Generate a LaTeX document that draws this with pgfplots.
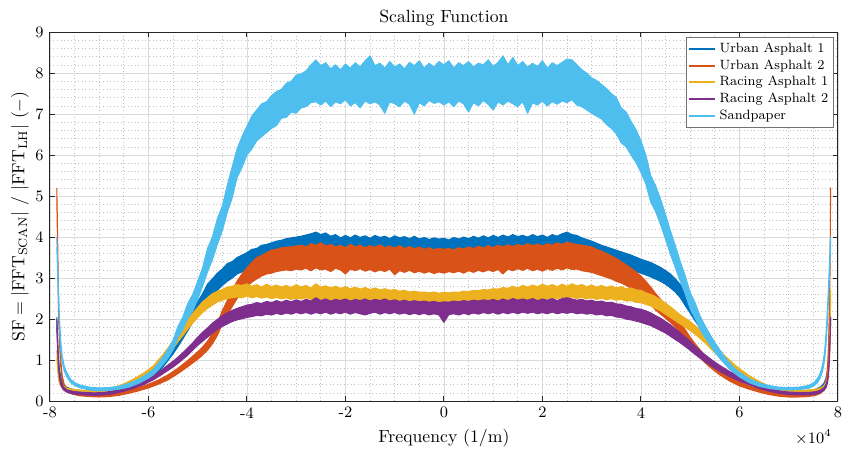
\documentclass[border=0pt]{standalone}
\usepackage{pgfplots}
\pgfplotsset{compat=1.18}
\usepackage{pgfplotstable}
\definecolor{cB}{RGB}{0,114,189}
\definecolor{cO}{RGB}{217,83,25}
\definecolor{cY}{RGB}{237,177,32}
\definecolor{cP}{RGB}{126,47,142}
\definecolor{cS}{RGB}{77,190,238}

% Sandpaper
\pgfplotstableread{
x lo up
-7.86 3.75 4.00
-7.845 3.20 3.45
-7.83 2.60 2.85
-7.815 2.10 2.35
-7.80 1.65 1.90
-7.78 1.25 1.45
-7.75 0.95 1.10
-7.71 0.74 0.86
-7.66 0.60 0.70
-7.58 0.45 0.53
-7.48 0.37 0.44
-7.38 0.32 0.39
-7.20 0.27 0.34
-7.00 0.25 0.32
-6.80 0.26 0.33
-6.60 0.29 0.36
-6.40 0.34 0.43
-6.20 0.43 0.53
-6.00 0.56 0.68
-5.90 0.64 0.78
-5.80 0.76 0.92
-5.70 0.90 1.08
-5.60 1.05 1.26
-5.50 1.25 1.48
-5.40 1.55 1.82
-5.30 1.75 2.05
-5.20 2.02 2.38
-5.10 2.20 2.60
-5.00 2.48 2.92
-4.90 2.80 3.25
-4.80 3.15 3.72
-4.70 3.45 4.00
-4.60 3.82 4.45
-4.50 4.15 4.75
-4.40 4.60 5.25
-4.30 4.95 5.70
-4.20 5.45 6.15
-4.10 5.70 6.45
-4.00 6.00 6.70
-3.90 6.15 6.95
-3.80 6.35 7.10
-3.70 6.45 7.25
-3.60 6.55 7.30
-3.50 6.65 7.45
-3.40 6.72 7.55
-3.30 6.90 7.60
-3.20 6.92 7.75
-3.10 7.05 7.80
-3.00 7.02 7.95
-2.90 7.15 7.98
-2.80 7.18 8.05
-2.70 7.28 8.20
-2.60 7.30 8.32
-2.50 7.22 8.18
-2.40 7.32 8.25
-2.30 7.18 8.10
-2.20 7.30 8.20
-2.10 7.25 8.08
-2.00 7.35 8.22
-1.90 7.20 8.12
-1.80 7.28 8.25
-1.70 7.15 8.15
-1.60 7.32 8.30
-1.50 7.25 8.42
-1.40 7.30 8.18
-1.30 7.22 8.24
-1.20 7.02 8.12
-1.10 7.30 8.28
-1.00 7.25 8.15
-0.90 7.18 8.22
-0.80 7.32 8.10
-0.70 7.24 8.26
-0.60 7.00 8.18
-0.50 7.28 8.30
-0.40 7.20 8.12
-0.30 7.33 8.24
-0.20 7.26 8.15
-0.10 7.30 8.28
0.00 7.22 8.20
0.10 7.30 8.30
0.20 7.18 8.12
0.30 7.32 8.25
0.40 7.25 8.18
0.50 7.05 8.28
0.60 7.28 8.15
0.70 7.20 8.24
0.80 7.33 8.20
0.90 7.24 8.32
1.00 7.10 8.16
1.10 7.30 8.26
1.20 7.22 8.42
1.30 7.32 8.20
1.40 7.25 8.38
1.50 7.18 8.18
1.60 7.30 8.28
1.70 7.02 8.14
1.80 7.28 8.24
1.90 7.22 8.16
2.00 7.32 8.30
2.10 7.20 8.12
2.20 7.30 8.25
2.30 7.24 8.18
2.40 7.32 8.26
2.50 7.28 8.34
2.60 7.35 8.32
2.70 7.22 8.20
2.80 7.18 8.08
2.90 7.10 8.00
3.00 7.02 7.88
3.10 6.95 7.82
3.20 6.88 7.72
3.30 6.75 7.62
3.40 6.65 7.50
3.50 6.52 7.40
3.60 6.30 7.15
3.70 6.20 7.05
3.80 6.00 6.82
3.90 5.82 6.62
4.00 5.58 6.35
4.10 5.30 6.00
4.20 4.85 5.50
4.30 4.62 5.25
4.40 4.30 4.92
4.50 3.95 4.55
4.60 3.58 4.15
4.70 3.25 3.78
4.80 2.92 3.40
4.90 2.62 3.05
5.00 2.25 2.65
5.10 2.02 2.40
5.20 1.75 2.08
5.30 1.55 1.84
5.40 1.38 1.62
5.50 1.20 1.42
5.60 1.05 1.24
5.70 0.92 1.08
5.80 0.79 0.93
5.90 0.68 0.80
6.00 0.59 0.70
6.20 0.45 0.55
6.40 0.36 0.44
6.60 0.31 0.38
6.80 0.28 0.34
7.00 0.27 0.33
7.20 0.28 0.34
7.40 0.31 0.38
7.50 0.36 0.44
7.58 0.44 0.54
7.64 0.56 0.68
7.69 0.74 0.88
7.73 1.00 1.20
7.76 1.40 1.65
7.79 2.00 2.30
7.815 2.65 2.95
7.835 3.30 3.55
7.85 3.75 4.00
}\tabS

% Urban Asphalt 1
\pgfplotstableread{
x lo up
-7.86 1.85 2.05
-7.845 1.40 1.60
-7.83 1.00 1.15
-7.81 0.70 0.82
-7.78 0.48 0.58
-7.74 0.36 0.43
-7.68 0.29 0.35
-7.58 0.24 0.30
-7.45 0.21 0.27
-7.30 0.19 0.25
-7.10 0.18 0.24
-6.90 0.19 0.25
-6.70 0.22 0.28
-6.50 0.27 0.34
-6.30 0.34 0.42
-6.10 0.44 0.54
-5.90 0.60 0.72
-5.70 0.84 0.98
-5.50 1.15 1.33
-5.40 1.33 1.55
-5.30 1.52 1.76
-5.20 1.72 2.00
-5.10 1.92 2.22
-5.00 2.08 2.42
-4.90 2.25 2.62
-4.80 2.45 2.85
-4.70 2.58 2.98
-4.60 2.70 3.12
-4.50 2.82 3.22
-4.40 2.92 3.35
-4.30 3.00 3.40
-4.20 3.10 3.50
-4.10 3.15 3.56
-4.00 3.22 3.62
-3.90 3.28 3.70
-3.80 3.30 3.72
-3.70 3.36 3.80
-3.60 3.40 3.82
-3.50 3.45 3.86
-3.40 3.48 3.90
-3.30 3.52 3.92
-3.20 3.55 3.96
-3.10 3.58 3.98
-3.00 3.60 4.00
-2.90 3.62 4.02
-2.80 3.66 4.05
-2.70 3.64 4.08
-2.60 3.70 4.12
-2.50 3.66 4.06
-2.40 3.68 4.10
-2.30 3.64 4.02
-2.20 3.70 4.06
-2.10 3.66 3.98
-2.00 3.68 4.04
-1.90 3.62 3.98
-1.80 3.68 4.05
-1.70 3.64 3.99
-1.60 3.69 4.03
-1.50 3.65 3.97
-1.40 3.67 4.04
-1.30 3.62 3.99
-1.20 3.66 4.02
-1.10 3.64 3.96
-1.00 3.68 4.03
-0.90 3.63 3.98
-0.80 3.66 4.01
-0.70 3.62 3.96
-0.60 3.65 4.02
-0.50 3.60 3.95
-0.40 3.64 3.99
-0.30 3.61 3.94
-0.20 3.63 3.98
-0.10 3.60 3.95
0.00 3.62 3.97
0.10 3.60 3.93
0.20 3.63 3.99
0.30 3.61 3.95
0.40 3.64 4.00
0.50 3.62 3.96
0.60 3.65 4.02
0.70 3.63 3.97
0.80 3.66 4.03
0.90 3.64 3.98
1.00 3.67 4.04
1.10 3.64 3.99
1.20 3.68 4.05
1.30 3.65 4.00
1.40 3.69 4.06
1.50 3.66 4.01
1.60 3.70 4.04
1.70 3.66 4.00
1.80 3.69 4.06
1.90 3.65 4.01
2.00 3.70 4.05
2.10 3.66 3.99
2.20 3.69 4.06
2.30 3.65 4.02
2.40 3.70 4.08
2.50 3.68 4.12
2.60 3.66 4.06
2.70 3.62 4.04
2.80 3.58 3.98
2.90 3.54 3.94
3.00 3.50 3.90
3.20 3.42 3.80
3.40 3.35 3.72
3.60 3.28 3.64
3.80 3.20 3.56
4.00 3.12 3.46
4.20 3.03 3.38
4.40 2.92 3.26
4.50 2.85 3.18
4.60 2.76 3.10
4.70 2.66 2.98
4.80 2.52 2.84
4.90 2.33 2.65
5.00 2.15 2.45
5.10 1.96 2.24
5.20 1.78 2.04
5.30 1.58 1.82
5.40 1.40 1.62
5.50 1.22 1.42
5.60 1.06 1.24
5.70 0.92 1.08
5.80 0.79 0.93
5.90 0.68 0.80
6.00 0.58 0.69
6.20 0.43 0.52
6.40 0.33 0.40
6.60 0.26 0.32
6.80 0.22 0.28
7.00 0.20 0.26
7.20 0.19 0.25
7.40 0.20 0.26
7.55 0.23 0.29
7.65 0.28 0.35
7.72 0.36 0.44
7.77 0.50 0.60
7.80 0.70 0.82
7.82 1.00 1.15
7.835 1.40 1.60
7.85 1.85 2.05
}\tabB

% Urban Asphalt 2
\pgfplotstableread{
x lo up
-7.86 4.95 5.20
-7.85 4.20 4.50
-7.84 3.40 3.70
-7.83 2.60 2.90
-7.82 1.90 2.15
-7.80 1.30 1.50
-7.78 0.85 1.00
-7.75 0.52 0.62
-7.71 0.34 0.41
-7.65 0.24 0.30
-7.55 0.17 0.23
-7.40 0.13 0.19
-7.20 0.11 0.17
-7.00 0.10 0.16
-6.80 0.11 0.17
-6.60 0.14 0.20
-6.40 0.19 0.27
-6.20 0.25 0.33
-6.00 0.32 0.41
-5.80 0.41 0.51
-5.60 0.52 0.64
-5.40 0.67 0.80
-5.20 0.84 0.99
-5.00 1.02 1.20
-4.90 1.12 1.32
-4.80 1.24 1.46
-4.70 1.40 1.65
-4.60 1.60 1.90
-4.50 1.88 2.20
-4.40 2.10 2.45
-4.30 2.30 2.70
-4.20 2.50 2.92
-4.10 2.65 3.10
-4.00 2.80 3.25
-3.90 2.90 3.38
-3.80 2.98 3.50
-3.70 3.05 3.55
-3.60 3.10 3.62
-3.50 3.12 3.68
-3.40 3.16 3.70
-3.30 3.18 3.74
-3.20 3.20 3.75
-3.10 3.18 3.76
-3.00 3.22 3.78
-2.90 3.20 3.80
-2.80 3.24 3.76
-2.70 3.18 3.84
-2.60 3.25 3.80
-2.50 3.20 3.86
-2.40 3.22 3.78
-2.30 3.16 3.82
-2.20 3.24 3.76
-2.10 3.20 3.80
-2.00 3.10 3.74
-1.90 3.22 3.82
-1.80 3.18 3.76
-1.70 3.23 3.80
-1.60 3.17 3.74
-1.50 3.21 3.79
-1.40 3.15 3.75
-1.30 3.20 3.81
-1.20 3.16 3.74
-1.10 3.22 3.78
-1.00 3.08 3.73
-0.90 3.18 3.79
-0.80 3.14 3.72
-0.70 3.19 3.77
-0.60 3.13 3.71
-0.50 3.17 3.76
-0.40 3.12 3.70
-0.30 3.16 3.74
-0.20 3.11 3.69
-0.10 3.15 3.73
0.00 3.12 3.70
0.10 3.16 3.72
0.20 3.13 3.69
0.30 3.17 3.74
0.40 3.12 3.71
0.50 3.18 3.76
0.60 3.14 3.72
0.70 3.19 3.78
0.80 3.15 3.73
0.90 3.20 3.79
1.00 3.16 3.74
1.10 3.21 3.80
1.20 3.10 3.76
1.30 3.22 3.81
1.40 3.18 3.77
1.50 3.23 3.82
1.60 3.19 3.78
1.70 3.24 3.84
1.80 3.18 3.79
1.90 3.22 3.83
2.00 3.17 3.78
2.10 3.23 3.84
2.20 3.19 3.80
2.30 3.24 3.86
2.40 3.20 3.82
2.50 3.25 3.88
2.60 3.21 3.84
2.70 3.22 3.82
2.80 3.18 3.80
2.90 3.16 3.78
3.00 3.14 3.76
3.10 3.10 3.70
3.20 3.06 3.66
3.30 3.02 3.60
3.40 2.98 3.54
3.50 2.92 3.48
3.60 2.88 3.40
3.70 2.82 3.32
3.80 2.75 3.24
3.90 2.66 3.15
4.00 2.58 3.05
4.10 2.46 2.92
4.20 2.35 2.78
4.30 2.22 2.62
4.40 2.12 2.48
4.50 2.02 2.34
4.60 1.92 2.22
4.70 1.80 2.08
4.80 1.65 1.92
4.90 1.48 1.74
5.00 1.32 1.56
5.10 1.18 1.40
5.20 1.05 1.25
5.30 0.94 1.12
5.40 0.83 0.99
5.60 0.64 0.77
5.80 0.49 0.60
6.00 0.37 0.47
6.20 0.29 0.37
6.40 0.22 0.29
6.60 0.16 0.22
6.80 0.12 0.18
7.00 0.10 0.16
7.20 0.10 0.16
7.40 0.11 0.17
7.55 0.14 0.20
7.65 0.19 0.26
7.72 0.28 0.36
7.76 0.42 0.52
7.79 0.70 0.84
7.81 1.20 1.40
7.825 1.90 2.15
7.835 2.70 3.00
7.845 3.60 3.90
7.85 4.95 5.20
}\tabO

% Racing Asphalt 1
\pgfplotstableread{
x lo up
-7.86 1.05 1.25
-7.84 0.72 0.86
-7.82 0.50 0.60
-7.79 0.38 0.46
-7.74 0.30 0.37
-7.65 0.25 0.31
-7.50 0.22 0.28
-7.30 0.20 0.26
-7.10 0.20 0.26
-6.90 0.22 0.28
-6.70 0.27 0.33
-6.50 0.34 0.42
-6.30 0.45 0.54
-6.10 0.58 0.68
-5.90 0.74 0.86
-5.70 0.98 1.14
-5.50 1.28 1.46
-5.40 1.45 1.64
-5.30 1.60 1.80
-5.20 1.76 1.98
-5.10 1.90 2.14
-5.00 2.04 2.28
-4.90 2.16 2.42
-4.80 2.26 2.52
-4.70 2.34 2.62
-4.60 2.42 2.68
-4.50 2.46 2.72
-4.40 2.50 2.78
-4.30 2.52 2.80
-4.20 2.54 2.84
-4.10 2.52 2.82
-4.00 2.56 2.86
-3.90 2.52 2.80
-3.80 2.55 2.84
-3.70 2.51 2.78
-3.60 2.54 2.85
-3.50 2.50 2.79
-3.40 2.53 2.83
-3.30 2.49 2.78
-3.20 2.52 2.82
-3.10 2.48 2.77
-3.00 2.51 2.84
-2.90 2.49 2.78
-2.80 2.52 2.82
-2.70 2.48 2.76
-2.60 2.51 2.86
-2.50 2.47 2.78
-2.40 2.50 2.81
-2.30 2.46 2.76
-2.20 2.49 2.80
-2.10 2.45 2.75
-2.00 2.48 2.79
-1.90 2.44 2.74
-1.80 2.47 2.78
-1.70 2.43 2.73
-1.60 2.46 2.77
-1.50 2.42 2.72
-1.40 2.45 2.76
-1.30 2.41 2.71
-1.20 2.43 2.74
-1.10 2.40 2.70
-1.00 2.42 2.72
-0.90 2.38 2.68
-0.80 2.40 2.70
-0.70 2.37 2.66
-0.60 2.39 2.68
-0.50 2.36 2.65
-0.40 2.38 2.66
-0.30 2.35 2.64
-0.20 2.37 2.66
-0.10 2.35 2.63
0.00 2.36 2.65
0.10 2.35 2.64
0.20 2.37 2.66
0.30 2.36 2.65
0.40 2.38 2.68
0.50 2.37 2.67
0.60 2.40 2.70
0.70 2.39 2.69
0.80 2.42 2.72
0.90 2.41 2.71
1.00 2.44 2.74
1.10 2.43 2.73
1.20 2.46 2.77
1.30 2.45 2.75
1.40 2.48 2.80
1.50 2.46 2.76
1.60 2.49 2.82
1.70 2.47 2.78
1.80 2.50 2.83
1.90 2.48 2.79
2.00 2.51 2.85
2.10 2.49 2.80
2.20 2.52 2.84
2.30 2.50 2.79
2.40 2.53 2.85
2.50 2.51 2.80
2.60 2.54 2.86
2.70 2.50 2.81
2.80 2.53 2.84
2.90 2.49 2.79
3.00 2.52 2.83
3.10 2.48 2.78
3.20 2.51 2.82
3.30 2.47 2.77
3.40 2.50 2.81
3.50 2.46 2.76
3.60 2.48 2.79
3.70 2.44 2.74
3.80 2.45 2.76
3.90 2.41 2.71
4.00 2.40 2.70
4.10 2.36 2.64
4.20 2.32 2.60
4.30 2.26 2.54
4.40 2.20 2.47
4.50 2.12 2.39
4.60 2.04 2.30
4.70 1.96 2.20
4.80 1.88 2.10
4.90 1.80 2.02
5.00 1.72 1.94
5.10 1.63 1.84
5.20 1.53 1.73
5.30 1.42 1.61
5.40 1.30 1.48
5.50 1.18 1.35
5.60 1.06 1.22
5.70 0.96 1.11
5.80 0.86 1.00
5.90 0.77 0.89
6.00 0.68 0.79
6.20 0.53 0.62
6.40 0.40 0.48
6.60 0.30 0.37
6.80 0.24 0.30
7.00 0.21 0.27
7.20 0.20 0.26
7.40 0.21 0.27
7.55 0.23 0.29
7.65 0.26 0.32
7.72 0.31 0.38
7.77 0.40 0.48
7.80 0.55 0.66
7.82 0.80 0.95
7.835 1.20 1.40
7.845 1.80 2.05
7.85 2.45 2.70
}\tabY

% Racing Asphalt 2
\pgfplotstableread{
x lo up
-7.86 1.80 2.00
-7.845 1.30 1.48
-7.83 0.90 1.04
-7.81 0.60 0.70
-7.78 0.40 0.48
-7.73 0.28 0.35
-7.65 0.21 0.27
-7.50 0.17 0.23
-7.30 0.15 0.21
-7.10 0.14 0.20
-6.90 0.15 0.21
-6.70 0.18 0.25
-6.50 0.24 0.31
-6.30 0.31 0.39
-6.10 0.40 0.49
-5.90 0.52 0.62
-5.70 0.67 0.79
-5.50 0.83 0.97
-5.40 0.92 1.07
-5.30 1.02 1.18
-5.20 1.12 1.30
-5.10 1.24 1.42
-5.00 1.36 1.56
-4.90 1.46 1.68
-4.80 1.56 1.78
-4.70 1.66 1.90
-4.60 1.75 1.99
-4.50 1.82 2.08
-4.40 1.88 2.15
-4.30 1.94 2.21
-4.20 1.98 2.26
-4.10 2.01 2.30
-4.00 2.04 2.34
-3.90 2.06 2.36
-3.80 2.09 2.40
-3.70 2.08 2.38
-3.60 2.12 2.43
-3.50 2.10 2.40
-3.40 2.14 2.45
-3.30 2.11 2.41
-3.20 2.15 2.46
-3.10 2.12 2.42
-3.00 2.16 2.47
-2.90 2.13 2.43
-2.80 2.16 2.48
-2.70 2.12 2.44
-2.60 2.16 2.52
-2.50 2.13 2.45
-2.40 2.17 2.49
-2.30 2.12 2.44
-2.20 2.16 2.48
-2.10 2.13 2.45
-2.00 2.17 2.49
-1.90 2.12 2.44
-1.80 2.16 2.48
-1.70 2.13 2.45
-1.60 2.10 2.49
-1.50 2.14 2.44
-1.40 2.17 2.48
-1.30 2.12 2.45
-1.20 2.16 2.49
-1.10 2.13 2.44
-1.00 2.16 2.47
-0.90 2.12 2.43
-0.80 2.15 2.46
-0.70 2.11 2.42
-0.60 2.14 2.45
-0.50 2.11 2.42
-0.40 2.14 2.44
-0.30 2.10 2.41
-0.20 2.13 2.43
-0.10 2.10 2.40
0.00 1.92 2.42
0.10 2.11 2.41
0.20 2.13 2.44
0.30 2.10 2.42
0.40 2.14 2.45
0.50 2.11 2.43
0.60 2.15 2.46
0.70 2.12 2.44
0.80 2.16 2.47
0.90 2.13 2.45
1.00 2.16 2.48
1.10 2.12 2.44
1.20 2.16 2.49
1.30 2.13 2.45
1.40 2.17 2.50
1.50 2.13 2.46
1.60 2.17 2.49
1.70 2.14 2.46
1.80 2.17 2.50
1.90 2.13 2.45
2.00 2.16 2.49
2.10 2.13 2.46
2.20 2.17 2.50
2.30 2.13 2.45
2.40 2.16 2.50
2.50 2.14 2.52
2.60 2.17 2.49
2.70 2.13 2.46
2.80 2.15 2.48
2.90 2.12 2.44
3.00 2.14 2.46
3.10 2.10 2.42
3.20 2.12 2.44
3.30 2.08 2.40
3.40 2.09 2.41
3.50 2.05 2.37
3.60 2.04 2.36
3.70 2.00 2.32
3.80 1.98 2.30
3.90 1.95 2.26
4.00 1.92 2.24
4.10 1.88 2.20
4.20 1.84 2.15
4.30 1.78 2.08
4.40 1.72 2.02
4.50 1.66 1.94
4.60 1.58 1.86
4.70 1.50 1.76
4.80 1.42 1.66
4.90 1.33 1.56
5.00 1.24 1.46
5.10 1.14 1.34
5.20 1.05 1.23
5.30 0.96 1.13
5.40 0.88 1.04
5.50 0.80 0.95
5.60 0.73 0.87
5.80 0.60 0.72
6.00 0.49 0.60
6.20 0.40 0.49
6.40 0.31 0.39
6.60 0.24 0.31
6.80 0.19 0.25
7.00 0.16 0.22
7.20 0.15 0.21
7.40 0.15 0.21
7.55 0.17 0.23
7.65 0.21 0.27
7.72 0.26 0.33
7.76 0.33 0.41
7.79 0.45 0.55
7.81 0.65 0.77
7.825 0.95 1.10
7.84 1.40 1.58
7.85 1.85 2.05
}\tabP

% closed outlines: upper edge left to right, then lower edge right to left
\newcommand{\mkloop}[2]{%
  \pgfplotstablesort[sort key=x, sort cmp={float >}]{#2}{#1}%
  \pgfplotstablecreatecol[copy=up]{y}{#1}%
  \pgfplotstablecreatecol[copy=lo]{y}{#2}%
  \pgfplotstablevertcat{#1}{#2}%
}
\mkloop{\tabB}{\revB}
\mkloop{\tabO}{\revO}
\mkloop{\tabY}{\revY}
\mkloop{\tabP}{\revP}
\mkloop{\tabS}{\revS}

\begin{document}
\begin{tikzpicture}
\begin{axis}[
  scale only axis, width=445.2pt, height=208.5pt,
  clip mode=individual,
  xmin=-8, xmax=8, ymin=0, ymax=9,
  xtick={-8,-6,-4,-2,0,2,4,6,8},
  xticklabels={-8,-6,-4,-2,0,2,4,6,8},
  ytick={0,1,2,3,4,5,6,7,8,9},
  minor x tick num=3, minor y tick num=4,
  grid=both,
  major grid style={color=black!14, line width=0.4pt},
  minor grid style={color=black!24, line width=0.35pt, dash pattern=on 0.4pt off 1.6pt},
  tick align=inside,
  major tick length=3pt, minor tick length=0pt,
  axis line style={color=black!85, line width=0.55pt},
  every tick/.style={color=black!85, line width=0.55pt},
  tick label style={font=\small},
  every axis title shift=0pt,
  title={Scaling Function},
  title style={at={(axis description cs:0.5,1.038)}, anchor=center, font=\normalsize},
  xlabel={Frequency (1/m)},
  xlabel style={at={(axis description cs:0.5,-0.1)}, anchor=center, font=\normalsize},
  ylabel={$\mathrm{SF} = |\mathrm{FFT}_{\mathrm{SCAN}}|\ /\ |\mathrm{FFT}_{\mathrm{LH}}|\ (-)$},
  ylabel style={at={(axis description cs:-0.038,0.5)}, anchor=center, font=\normalsize},
  legend style={at={(axis description cs:0.995,0.986)}, anchor=north east,
    font=\fontsize{7.6}{9}\selectfont, draw=black!55, line width=0.4pt, fill=white,
    inner sep=1pt, row sep=-1.5pt, cells={anchor=west}},
  legend image code/.code={\draw[line width=1pt] (0pt,0pt) -- (15pt,0pt);},
]
\addplot[fill=cB, draw=cB, line width=0.6pt, line join=round, forget plot] table[x=x,y=y]{\tabB};
\addplot[fill=cO, draw=cO, line width=0.6pt, line join=round, forget plot] table[x=x,y=y]{\tabO};
\addplot[fill=cY, draw=cY, line width=0.6pt, line join=round, forget plot] table[x=x,y=y]{\tabY};
\addplot[fill=cP, draw=cP, line width=0.6pt, line join=round, forget plot] table[x=x,y=y]{\tabP};
\addplot[fill=cS, draw=cS, line width=0.6pt, line join=round, forget plot] table[x=x,y=y]{\tabS};
\addlegendimage{color=cB, line width=1pt}\addlegendentry{Urban Asphalt 1}
\addlegendimage{color=cO, line width=1pt}\addlegendentry{Urban Asphalt 2}
\addlegendimage{color=cY, line width=1pt}\addlegendentry{Racing Asphalt 1}
\addlegendimage{color=cP, line width=1pt}\addlegendentry{Racing Asphalt 2}
\addlegendimage{color=cS, line width=1pt}\addlegendentry{Sandpaper}
\node[anchor=east, font=\small] at (axis description cs:1.0,-0.098) {$\times 10^{4}$};
\end{axis}
\pgfresetboundingbox
\path[use as bounding box] (-28.2pt,-27.7pt) rectangle (449.2pt,226.6pt);
\end{tikzpicture}
\end{document}
